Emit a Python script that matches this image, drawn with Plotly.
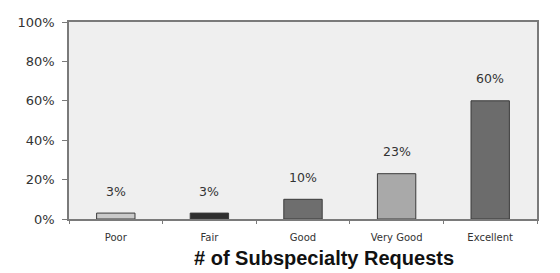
import plotly.graph_objects as go

categories = ["Poor", "Fair", "Good", "Very Good", "Excellent"]
values = [3, 3, 10, 23, 60]
labels = ["3%", "3%", "10%", "23%", "60%"]
colors = ["#cacaca", "#2e2e2e", "#6e6e6e", "#a9a9a9", "#6c6c6c"]

fig = go.Figure()
fig.add_trace(go.Bar(
    x=categories, y=values,
    marker=dict(color=colors, line=dict(color="#3a3a3a", width=1)),
    width=0.41,
))
for c, v, t in zip(categories, values, labels):
    fig.add_annotation(x=c, y=v, text=t, showarrow=False, yshift=22,
                       font=dict(family="DejaVu Sans", size=12.5, color="#333333"))

fig.add_annotation(xref="paper", yref="paper", x=0.545, y=-0.196, xanchor="center", yanchor="middle",
                   text="<b># of Subspecialty Requests</b>", showarrow=False,
                   font=dict(family="Liberation Sans Narrow, Liberation Sans, Arial", size=20, color="#111111"))

fig.update_layout(
    width=552, height=265,
    margin=dict(l=61, r=23, t=7, b=54),
    paper_bgcolor="white", plot_bgcolor="#efefef",
    showlegend=False,
    xaxis=dict(showline=True, linecolor="#7a7a7a", linewidth=1.5, mirror=True,
               ticks="outside", tickson="boundaries", ticklen=3, tickcolor="#7a7a7a",
               ticklabelstandoff=8,
               tickfont=dict(family="DejaVu Sans", size=10, color="#333333")),
    yaxis=dict(range=[0, 100], dtick=20, ticksuffix="%", showgrid=False, zeroline=False,
               showline=True, linecolor="#7a7a7a", linewidth=1.5, mirror=True,
               ticks="outside", ticklen=5, tickcolor="#7a7a7a",
               ticklabelstandoff=5,
               tickfont=dict(family="DejaVu Sans", size=13, color="#333333")),
)
fig.write_html("out.html")
